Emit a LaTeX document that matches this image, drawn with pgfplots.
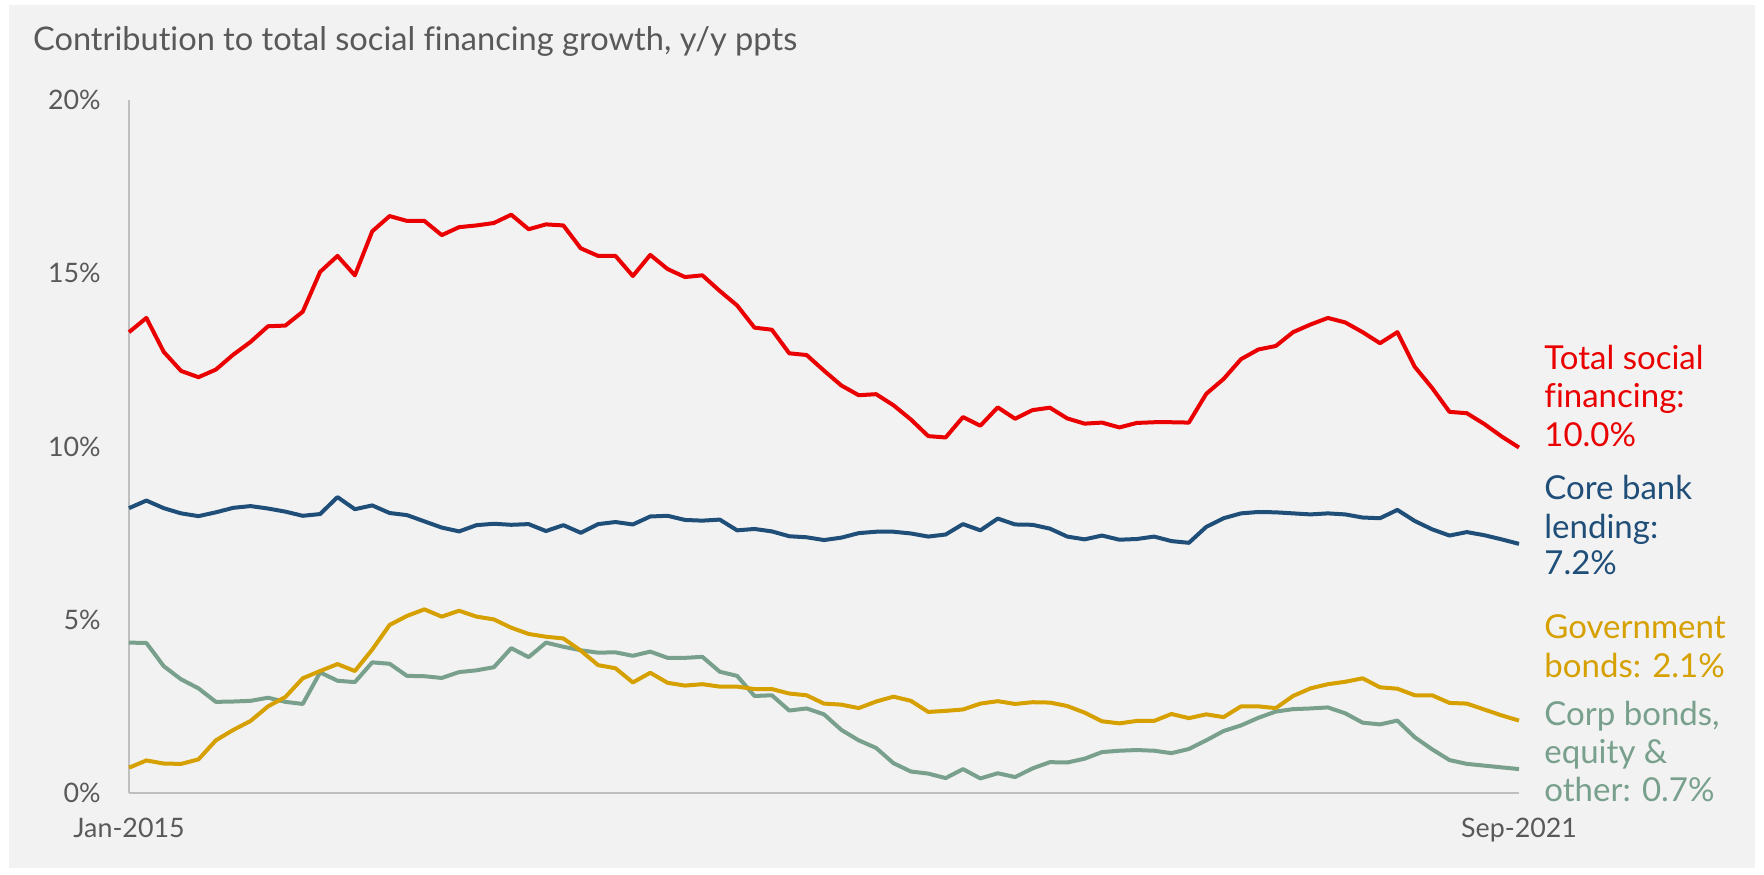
\documentclass[border=0pt]{standalone}
\usepackage{fontspec}
\setmainfont{Lato}[Ligatures=NoCommon]
\usepackage{pgfplots}
\usepackage{pgfplotstable}
\pgfplotsset{compat=1.18}
\definecolor{bgray}{HTML}{F2F2F2}
\definecolor{txtgray}{HTML}{595959}
\definecolor{axgray}{HTML}{BFBFBF}
\definecolor{cred}{HTML}{EA0000}
\definecolor{cblue}{HTML}{1F4E79}
\definecolor{cgold}{HTML}{D6A000}
\definecolor{cgreen}{HTML}{78A08C}
\pgfplotstableread{
i tsf core gov corp
0 13.30 8.22 0.73 4.34
1 13.71 8.44 0.94 4.33
2 12.73 8.22 0.85 3.66
3 12.18 8.07 0.84 3.28
4 12.00 7.99 0.97 3.02
5 12.22 8.10 1.52 2.63
6 12.65 8.23 1.82 2.64
7 13.02 8.28 2.08 2.66
8 13.47 8.21 2.50 2.75
9 13.49 8.12 2.77 2.63
10 13.89 8.00 3.31 2.57
11 15.04 8.05 3.52 3.48
12 15.50 8.54 3.72 3.24
13 14.94 8.19 3.52 3.20
14 16.21 8.30 4.14 3.77
15 16.65 8.08 4.85 3.73
16 16.51 8.02 5.11 3.38
17 16.51 7.84 5.30 3.37
18 16.10 7.66 5.09 3.32
19 16.33 7.55 5.26 3.49
20 16.38 7.73 5.09 3.54
21 16.45 7.77 5.01 3.63
22 16.69 7.74 4.77 4.18
23 16.27 7.76 4.59 3.92
24 16.41 7.56 4.51 4.34
25 16.38 7.73 4.46 4.22
26 15.72 7.51 4.11 4.12
27 15.50 7.76 3.69 4.05
28 15.50 7.82 3.60 4.06
29 14.92 7.75 3.19 3.96
30 15.53 7.98 3.47 4.08
31 15.12 8.00 3.18 3.90
32 14.89 7.88 3.10 3.90
33 14.94 7.86 3.14 3.93
34 14.49 7.89 3.07 3.50
35 14.07 7.58 3.07 3.38
36 13.43 7.62 3.00 2.80
37 13.37 7.55 3.00 2.82
38 12.69 7.41 2.87 2.38
39 12.64 7.38 2.82 2.44
40 12.19 7.30 2.58 2.27
41 11.76 7.37 2.55 1.82
42 11.48 7.50 2.45 1.52
43 11.51 7.54 2.64 1.30
44 11.19 7.54 2.78 0.86
45 10.78 7.49 2.66 0.62
46 10.30 7.40 2.34 0.56
47 10.26 7.46 2.37 0.43
48 10.85 7.76 2.41 0.69
49 10.60 7.58 2.58 0.42
50 11.13 7.92 2.65 0.57
51 10.80 7.75 2.57 0.46
52 11.05 7.74 2.62 0.71
53 11.12 7.63 2.61 0.89
54 10.81 7.40 2.51 0.88
55 10.66 7.32 2.32 0.99
56 10.69 7.43 2.07 1.18
57 10.55 7.31 2.01 1.22
58 10.68 7.33 2.08 1.24
59 10.70 7.40 2.08 1.22
60 10.70 7.27 2.28 1.15
61 10.69 7.22 2.16 1.27
62 11.52 7.68 2.27 1.52
63 11.95 7.93 2.19 1.79
64 12.52 8.07 2.50 1.95
65 12.80 8.11 2.50 2.17
66 12.90 8.10 2.45 2.35
67 13.30 8.07 2.80 2.42
68 13.52 8.04 3.02 2.44
69 13.71 8.07 3.14 2.47
70 13.58 8.04 3.21 2.30
71 13.30 7.95 3.31 2.03
72 12.98 7.93 3.05 1.98
73 13.30 8.17 3.01 2.09
74 12.30 7.85 2.82 1.61
75 11.69 7.61 2.82 1.26
76 11.00 7.43 2.60 0.95
77 10.96 7.53 2.58 0.84
78 10.65 7.44 2.41 0.79
79 10.29 7.32 2.24 0.74
80 9.97 7.19 2.09 0.69
}\datatable
\begin{document}
\begin{tikzpicture}
\useasboundingbox (0,0) rectangle (882bp,437.5bp);
\fill[white] (0,0) rectangle (882bp,437.5bp);
\fill[bgray] (4.5bp,3.5bp) rectangle (877.5bp,435bp);
\node[anchor=base west, inner sep=0pt, text=txtgray] at (16.35bp,412.15bp)
  {\resizebox{382bp}{!}{\fontsize{17bp}{20bp}\selectfont Contribution to total social financing growth, y/y ppts}};
\begin{axis}[
  at={(64.5bp,41bp)}, anchor=south west,
  scale only axis, width=695bp, height=346.5bp,
  xmin=0, xmax=80, ymin=0, ymax=20,
  axis x line*=bottom, axis y line*=left,
  axis line style={draw=axgray, line width=0.7bp, -},
  major tick length=0pt,
  xtick={0,80}, xticklabels={Jan-2015,Sep-2021},
  ytick={0,5,10,15,20}, yticklabels={0\%,5\%,10\%,15\%,20\%},
  tick label style={font=\fontsize{13.4bp}{16bp}\selectfont, text=txtgray, inner sep=0pt},
  xticklabel style={anchor=base, yshift=-22bp},
  yticklabel style={anchor=east, xshift=-14bp},
  clip=false,
  every axis plot/.append style={line width=2bp, line join=round, no markers},
]
\addplot[cgreen] table[x=i, y=corp] {\datatable};
\addplot[cgold] table[x=i, y=gov] {\datatable};
\addplot[cblue] table[x=i, y=core] {\datatable};
\addplot[cred] table[x=i, y=tsf] {\datatable};
\end{axis}
\begin{scope}[every node/.style={anchor=base west, inner sep=0pt, font=\fontsize{16.5bp}{19bp}\selectfont}]
\node[text=cred] at (772bp,252.65bp) {Total social};
\node[text=cred] at (772bp,233.5bp) {financing:};
\node[text=cred] at (772bp,214.15bp) {10.0\%};
\node[text=cblue] at (772bp,187.5bp) {Core bank};
\node[text=cblue] at (772bp,168bp) {lending:};
\node[text=cblue] at (772bp,150bp) {7.2\%};
\node[text=cgold] at (772bp,118bp) {Government};
\node[text=cgold] at (772bp,98.65bp) {bonds: 2.1\%};
\node[text=cgreen] at (772bp,74.5bp) {Corp bonds,};
\node[text=cgreen] at (772bp,55.5bp) {equity \&};
\node[text=cgreen] at (772bp,36.7bp) {other: 0.7\%};
\end{scope}
\end{tikzpicture}
\end{document}
